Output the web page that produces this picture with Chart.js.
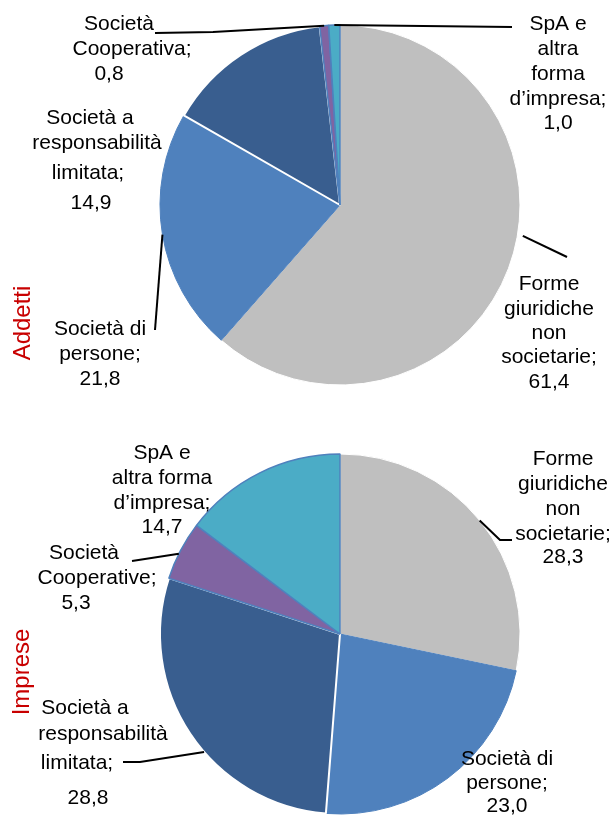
<!DOCTYPE html>
<html>
<head>
<meta charset="utf-8">
<script src="https://cdn.jsdelivr.net/npm/chart.js@4.4.0/dist/chart.umd.min.js"></script>
<style>
  html, body { margin: 0; padding: 0; background: #ffffff; }
  .wrap { position: relative; width: 611px; height: 815px; }
  .wrap canvas { position: absolute; left: 0; top: 0; }
</style>
</head>
<body>
<div class="wrap">
  <canvas id="addetti-chart" width="611" height="815"></canvas>
  <canvas id="imprese-chart" width="611" height="815"></canvas>
</div>
<script>
// data
const categories = ['Forme giuridiche non societarie', 'Società di persone', 'Società a responsabilità limitata', 'Società Cooperativa', 'SpA e altra forma d’impresa'];
const addettiValues = [61.4, 21.8, 14.9, 0.8, 1.0];
const impreseValues = [28.3, 23.0, 28.8, 5.3, 14.7];

const addettiLabelLines = [
    ['Forme', 'giuridiche', 'non', 'societarie;'],
    ['Società di', 'persone;'],
    ['Società a', 'responsabilità', 'limitata;'],
    ['Società', 'Cooperativa;'],
    ['SpA e', 'altra', 'forma', 'd’impresa;']
];
const impreseLabelLines = [
    ['Forme', 'giuridiche', 'non', 'societarie;'],
    ['Società di', 'persone;'],
    ['Società a', 'responsabilità', 'limitata;'],
    ['Società', 'Cooperative;'],
    ['SpA e', 'altra forma', 'd’impresa;']
];

const sliceColors = ['#bfbfbf', '#4f81bd', '#395e8f', '#8064a2', '#4bacc6'];
const sliceBorders = ['#ffffff', '#4f81bd', '#ffffff', '#4f81bd', '#4f81bd'];

// label placement (x = line centre(s), y = baselines), leader lines start on the slice edge
const addettiLayout = [
    { x: 549, y: [290, 315, 339, 363, 388], leader: { t: 0.45, r: 1.03, to: [[567, 257]] } },
    { x: 100, y: [335, 360, 385] , leader: { t: 0.5, r: 1.0, to: [[155, 330]] } },
    { x: [90, 97, 88, 91], y: [124, 149, 179, 209] },
    { x: [119, 132, 109], y: [30, 55, 80], leader: { t: 0.5, r: 1.0, to: [[213, 32], [155, 33]] } },
    { x: 558, y: [30, 55, 80, 105, 129], leader: { t: 0.5, r: 1.0, to: [[512, 27]] } }
];
const impreseLayout = [
    { x: 563, y: [465, 490, 515, 540, 563], leader: { t: 0.5, r: 1.0, to: [[500, 540], [512, 540]] } },
    { x: 507, y: [765, 789, 812] },
    { x: [85, 103, 77, 88], y: [714, 740, 769, 804], leader: { t: 0.43, r: 1.0, to: [[140, 762], [123, 762]] } },
    { x: [84, 97, 76], y: [559, 584, 609], leader: { t: 0.44, r: 1.0, to: [[132, 561]] } },
    { x: 162, y: [459, 484, 509, 533] }
];

function fmt(v) {
    return v.toFixed(1).replace('.', ',');
}

function makeLabelPlugin(lines, layout, title) {
    return {
        id: 'pieLabels',
        afterDatasetsDraw(chart) {
            const ctx = chart.ctx;
            const meta = chart.getDatasetMeta(0);
            const values = chart.data.datasets[0].data;
            ctx.save();
            ctx.font = '21px "Liberation Sans", Arial, sans-serif';
            ctx.fillStyle = '#000000';
            ctx.strokeStyle = '#000000';
            ctx.lineWidth = 2;
            ctx.textAlign = 'center';
            ctx.textBaseline = 'alphabetic';
            layout.forEach((lay, i) => {
                const txt = lines[i].concat([fmt(values[i])]);
                txt.forEach((s, j) => {
                    const x = Array.isArray(lay.x) ? lay.x[j] : lay.x;
                    ctx.fillText(s, x, lay.y[j]);
                });
                if (lay.leader) {
                    const p = meta.data[i].getProps(['x', 'y', 'startAngle', 'endAngle', 'outerRadius'], true);
                    const a = p.startAngle + (p.endAngle - p.startAngle) * lay.leader.t;
                    const r = p.outerRadius * lay.leader.r;
                    ctx.beginPath();
                    ctx.moveTo(p.x + r * Math.cos(a), p.y + r * Math.sin(a));
                    lay.leader.to.forEach(pt => ctx.lineTo(pt[0], pt[1]));
                    ctx.stroke();
                }
            });
            // red vertical title
            ctx.translate(title.x, title.y);
            ctx.rotate(-Math.PI / 2);
            ctx.font = '24px "Liberation Sans", Arial, sans-serif';
            ctx.fillStyle = '#c80000';
            ctx.textBaseline = 'middle';
            ctx.fillText(title.text, 0, 0);
            ctx.restore();
        }
    };
}

function makePie(id, values, lines, layout, title, padding) {
    return new Chart(document.getElementById(id).getContext('2d'), {
        type: 'pie',
        data: {
            labels: categories,
            datasets: [{
                data: values,
                backgroundColor: sliceColors,
                borderColor: sliceBorders,
                borderWidth: [1, 1, 2, 1.5, 1.5],
                radius: 180
            }]
        },
        options: {
            responsive: false,
            animation: false,
            events: [],
            layout: { padding: padding },
            plugins: {
                legend: { display: false },
                tooltip: { enabled: false },
                title: { display: false }
            }
        },
        plugins: [makeLabelPlugin(lines, layout, title)]
    });
}

makePie('addetti-chart', addettiValues, addettiLabelLines, addettiLayout,
    { text: 'Addetti', x: 23, y: 323 },
    { left: 150, right: 81, top: 15, bottom: 420 });

makePie('imprese-chart', impreseValues, impreseLabelLines, impreseLayout,
    { text: 'Imprese', x: 22, y: 672 },
    { left: 150, right: 81, top: 453, bottom: 0 });
</script>
</body>
</html>
